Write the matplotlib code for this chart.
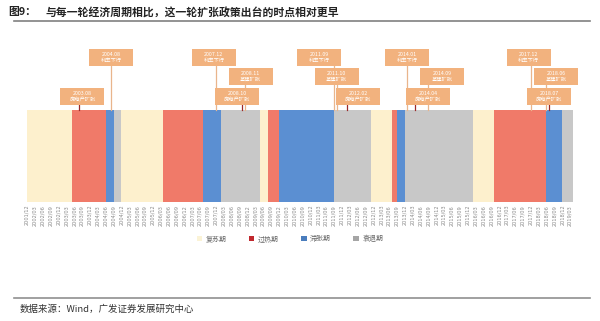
import matplotlib.pyplot as plt
from matplotlib.patches import Rectangle, Patch
from matplotlib.lines import Line2D

plt.rcParams['font.family'] = ['Noto Sans CJK SC', 'DejaVu Sans']

# cycle phases: first month of each phase (the last one runs to end_month)
phase_start = ['2001-12', '2003-05', '2004-06', '2004-09', '2004-12', '2006-04',
               '2007-07', '2008-02', '2009-05', '2009-08', '2009-12', '2011-09',
               '2012-11', '2013-07', '2013-09', '2013-12', '2016-02', '2016-10',
               '2018-06', '2018-12']
phase_name = ['复苏期', '过热期', '滞胀期', '衰退期', '复苏期', '过热期',
              '滞胀期', '衰退期', '复苏期', '过热期', '滞胀期', '衰退期',
              '复苏期', '过热期', '滞胀期', '衰退期', '复苏期', '过热期',
              '滞胀期', '衰退期']
end_month = '2019-04'

phases = ['复苏期', '过热期', '滞胀期', '衰退期']

# policy events
rate_dates = ['2004-08', '2007-12', '2011-09', '2014-01', '2017-12']
infra_dates = ['2008-11', '2011-10', '2014-09', '2018-06']
estate_dates = ['2003-08', '2008-10', '2012-02', '2014-04', '2018-07']
rate_label = '利率下行'
infra_label = '基建扩张'
estate_label = '房地产扩张'

# styling
bar_color = {'复苏期': '#fdf0cd', '过热期': '#f07a69', '滞胀期': '#5b8fd2', '衰退期': '#c8c8c8'}
legend_color = {'复苏期': '#fbf3d6', '过热期': '#c0282e', '滞胀期': '#4a7dbd', '衰退期': '#a5a5a5'}
box_color = '#f2b27e'
rate_dx = [0, -2, -15, 0, -2]
infra_dx = [6, 0, 14, 10]
estate_dx = [3, -5, 11, 13, 0]


def mi(s):
    y, m = s.split('-')
    return (int(y) - 2001) * 12 + int(m) - 12


W, H = 600, 321
fig = plt.figure(figsize=(W / 100, H / 100), dpi=100)
ax = fig.add_axes([27 / W, (H - 202) / H, 545.7 / W, 92 / H])

starts = [mi(s) for s in phase_start]
ends = starts[1:] + [mi(end_month)]
for s, e, p in zip(starts, ends, phase_name):
    ax.barh(0.5, e - s, left=s, height=1, color=bar_color[p], linewidth=0)

ax.set_xlim(0, mi(end_month))
ax.set_ylim(0, 1)
ticks = list(range(0, mi(end_month), 3))
labels = ['%d/%02d' % (2001 + (t + 11) // 12, (t + 11) % 12 + 1) for t in ticks]
ax.set_xticks(ticks)
ax.set_xticklabels(labels, rotation=90, fontsize=3.6, color='#8a8a8a', family='DejaVu Sans')
ax.tick_params(axis='x', length=0, pad=2)
ax.set_yticks([])
for sp in ax.spines.values():
    sp.set_visible(False)

# overlay in pixel coords for the annotation boxes
ov = fig.add_axes([0, 0, 1, 1])
ov.set_xlim(0, W)
ov.set_ylim(H, 0)
ov.axis('off')

bar_top = 110
rows = [(rate_dates, rate_label, rate_dx, 49, '#e9b58c'),
        (infra_dates, infra_label, infra_dx, 68, '#e9b58c'),
        (estate_dates, estate_label, estate_dx, 88, '#9b2a2a')]
bw, bh = 44, 17
for dates, lab, dxs, top, lc in rows:
    for d, dx in zip(dates, dxs):
        px = ax.transData.transform((mi(d), 0))[0]
        ov.plot([px, px], [top + bh, bar_top], color=lc, lw=0.9, zorder=1)
for dates, lab, dxs, top, lc in rows:
    for d, dx in zip(dates, dxs):
        px = ax.transData.transform((mi(d), 0))[0]
        cx = px + dx
        ov.add_patch(Rectangle((cx - bw / 2, top), bw, bh, fc=box_color, ec='none', zorder=3))
        ov.text(cx, top + bh / 2, d.replace('-', '.') + '\n' + lab, ha='center', va='center',
                fontsize=3.8, color='white', linespacing=1.35, zorder=4)

# legend
handles = [Patch(fc=legend_color[p], ec='none') for p in phases]
fig.legend(handles, phases, loc='center', bbox_to_anchor=(290 / W, 1 - 239 / H), ncol=4,
           frameon=False, fontsize=5, handlelength=0.8, handleheight=0.8,
           handletextpad=0.5, columnspacing=3.2, labelcolor='#666666')

# title, rules and source
fig.text(8 / W, 1 - 12 / H, '图9：', fontsize=7.8, fontweight='bold', va='center', color='#222222')
fig.text(45 / W, 1 - 12 / H, '与每一轮经济周期相比，这一轮扩张政策出台的时点相对更早',
         fontsize=7.8, fontweight='bold', va='center', color='#222222')
fig.add_artist(Line2D([14 / W, 590 / W], [1 - 21 / H] * 2, color='#808080', lw=1.2))
fig.add_artist(Line2D([14 / W, 590 / W], [1 - 298 / H] * 2, color='#909090', lw=1.2))
fig.text(20 / W, 1 - 309 / H, '数据来源：Wind，广发证券发展研究中心', fontsize=6.8,
         va='center', color='#333333')

fig.savefig('out.png', dpi=100)
